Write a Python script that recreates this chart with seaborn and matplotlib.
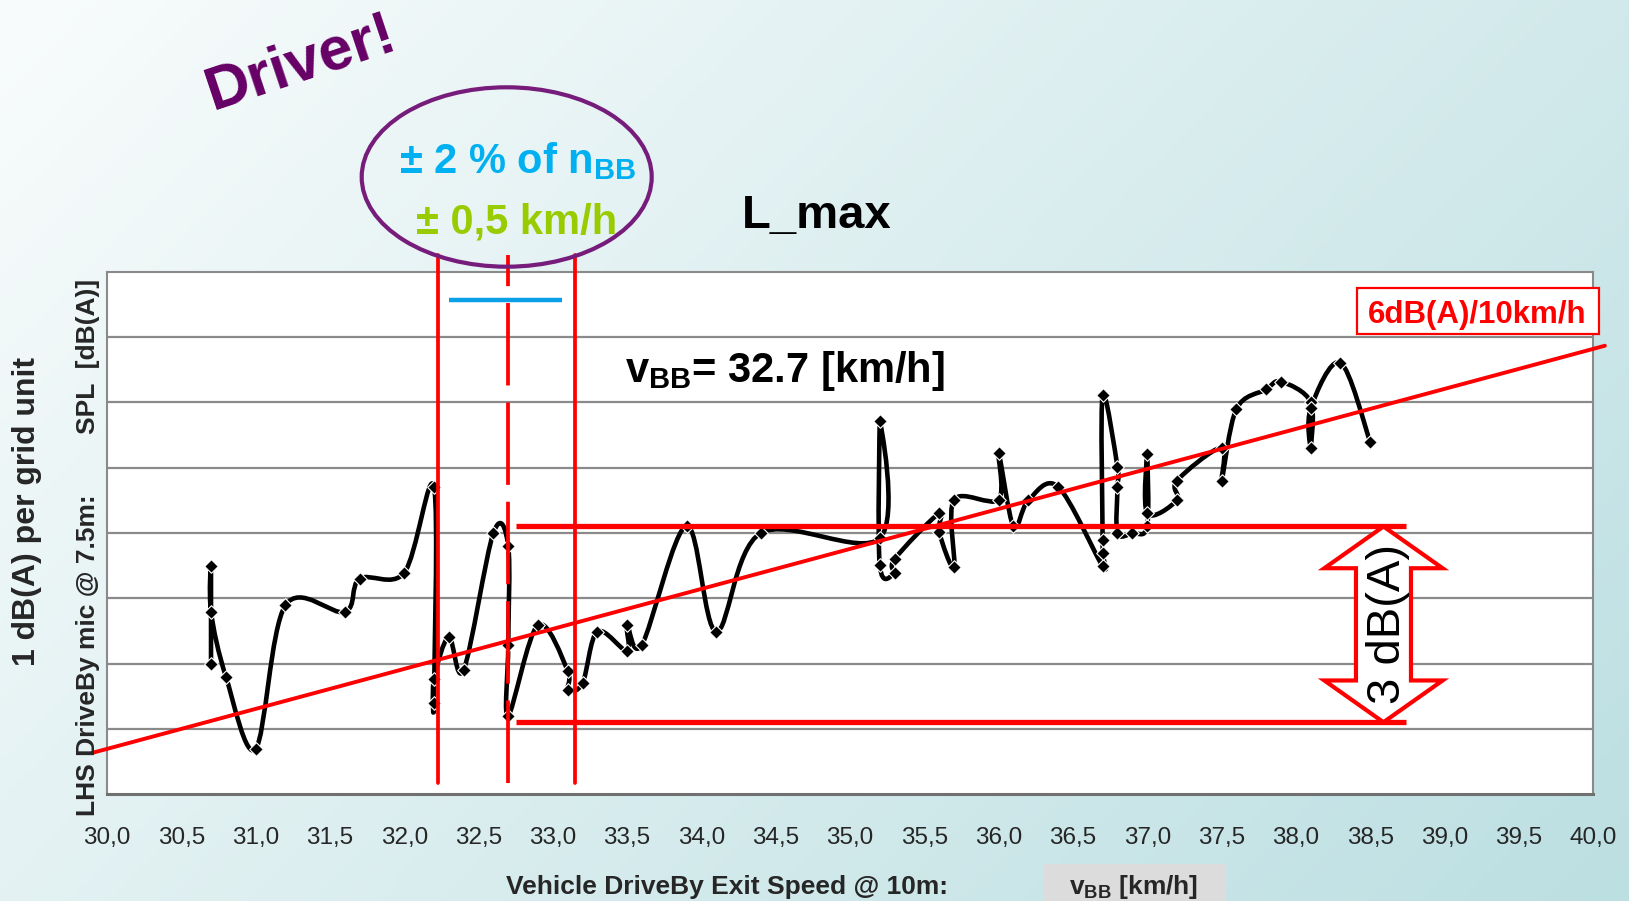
import numpy as np
import matplotlib
matplotlib.use("Agg")
import matplotlib.pyplot as plt
import seaborn as sns
from matplotlib.path import Path
from matplotlib.patches import PathPatch, Ellipse, Rectangle, Polygon

# ---------------- data ----------------
speed = [30.70, 30.70, 30.70, 30.80, 31.00, 31.20, 31.60, 31.70, 32.00, 32.20,
         32.20, 32.20, 32.30, 32.40, 32.60, 32.70, 32.70, 32.70, 32.90, 33.10,
         33.10, 33.20, 33.30, 33.50, 33.50, 33.60, 33.90, 34.10, 34.40, 35.20,
         35.20, 35.20, 35.30, 35.30, 35.60, 35.60, 35.70, 35.70, 36.00, 36.00,
         36.10, 36.20, 36.40, 36.70, 36.70, 36.70, 36.70, 36.80, 36.80, 36.80,
         36.90, 37.00, 37.00, 37.00, 37.20, 37.20, 37.50, 37.50, 37.60, 37.80,
         37.90, 38.10, 38.10, 38.10, 38.30, 38.50]
spl = [2.00, 3.49, 2.79, 1.80, 0.69, 2.89, 2.79, 3.30, 3.39, 4.71,
       1.40, 1.77, 2.41, 1.90, 4.00, 3.80, 2.28, 1.20, 2.59, 1.89,
       1.59, 1.70, 2.49, 2.19, 2.59, 2.29, 4.11, 2.49, 4.00, 3.92,
       5.71, 3.51, 3.39, 3.60, 4.30, 4.01, 3.48, 4.51, 4.51, 5.22,
       4.10, 4.50, 4.71, 3.49, 3.69, 3.90, 6.11, 5.01, 4.70, 4.00,
       4.00, 4.10, 5.21, 4.30, 4.50, 4.80, 5.31, 4.80, 5.90, 6.20,
       6.32, 6.01, 5.31, 5.91, 6.61, 5.40]

tick_values = [30.0, 30.5, 31.0, 31.5, 32.0, 32.5, 33.0, 33.5, 34.0, 34.5, 35.0,
               35.5, 36.0, 36.5, 37.0, 37.5, 38.0, 38.5, 39.0, 39.5, 40.0]
tick_labels = ["30,0", "30,5", "31,0", "31,5", "32,0", "32,5", "33,0", "33,5",
               "34,0", "34,5", "35,0", "35,5", "36,0", "36,5", "37,0", "37,5",
               "38,0", "38,5", "39,0", "39,5", "40,0"]
grid_levels = [1, 2, 3, 4, 5, 6, 7]

trend_x = [29.9, 40.08]          # 6 dB(A) / 10 km/h trend line
trend_y = [0.63, 6.87]
v_bb = 32.7                      # dashed line
tol_lo, tol_hi = 32.23, 33.15    # +-0.5 km/h window
blue_x = [32.30, 33.06]          # +-2 % of n_BB
blue_y = 7.57
band_x = [32.75, 38.74]          # 3 dB(A) band
band_top, band_bottom = 4.10, 1.10
arrow_x = 38.59

# ---------------- style ----------------
sns.set_theme(style="white")
plt.rcParams['font.family'] = ['Liberation Sans', 'DejaVu Sans']
plt.rcParams['mathtext.fontset'] = 'custom'
plt.rcParams['mathtext.rm'] = 'Liberation Sans'
plt.rcParams['mathtext.bf'] = 'Liberation Sans:bold'
plt.rcParams['mathtext.it'] = 'Liberation Sans:italic'

W, H = 1629, 901
fig = plt.figure(figsize=(W / 100, H / 100), dpi=100)


def fx(px):
    return px / W


def fy(py):
    return 1 - py / H


# background gradient
bg = fig.add_axes([0, 0, 1, 1], zorder=-10)
gx = np.linspace(0, 1, 400)
gy = np.linspace(0, 1, 220)
GX, GY = np.meshgrid(gx, gy)
tt = np.clip(0.65 * GX + 0.35 * GY, 0, 1)
c0 = np.array([249, 252, 252]) / 255
c1 = np.array([188, 223, 226]) / 255
img = c0 + (c1 - c0) * tt[..., None]
bg.imshow(img, aspect='auto', extent=[0, 1, 0, 1], origin='upper')
bg.axis('off')

ax = fig.add_axes([fx(107), fy(794), (1593 - 107) / W, (794 - 272) / H])
ax.set_facecolor('white')


# smooth (Excel-like) curve through the measured points
def smooth_path(xs, ys, t=1 / 6):
    P = np.column_stack([xs, ys]).astype(float)
    n = len(P)
    verts = [P[0]]
    codes = [Path.MOVETO]
    for i in range(n - 1):
        p0 = P[i - 1] if i > 0 else P[i]
        p1 = P[i]
        p2 = P[i + 1]
        p3 = P[i + 2] if i + 2 < n else P[i + 1]
        verts += [p1 + (p2 - p0) * t, p2 - (p3 - p1) * t, p2]
        codes += [Path.CURVE4] * 3
    return Path(verts, codes)


ax.add_patch(PathPatch(smooth_path(speed, spl), facecolor='none',
                       edgecolor='black', lw=3.3, zorder=3, capstyle='round',
                       joinstyle='round'))
sns.scatterplot(x=speed, y=spl, marker='D', s=48, color='black',
                edgecolor='white', linewidth=0.8, ax=ax, zorder=4)

ax.set_xlim(30, 40)
ax.set_ylim(0, 8)
ax.set_xticks(tick_values)
ax.set_xticklabels(tick_labels, fontsize=17.5)
ax.set_yticks(grid_levels)
ax.set_yticklabels([])
ax.tick_params(axis='x', length=0, pad=23.5)
ax.tick_params(axis='y', length=0)
ax.yaxis.grid(True, color='#8a8a8a', lw=1.6)
ax.xaxis.grid(False)
ax.set_axisbelow(True)
ax.set_xlabel('')
ax.set_ylabel('')
for s in ax.spines.values():
    s.set_color('#8a8a8a')
    s.set_linewidth(1.5)
ax.spines['bottom'].set_linewidth(2.2)
ax.spines['bottom'].set_color('#707070')

# red annotations
red = '#ff0000'
ax.plot(trend_x, trend_y, color=red, lw=2.8, clip_on=False, zorder=6)
for xv in (tol_lo, tol_hi):
    ax.plot([xv, xv], [0.17, 8.26], color=red, lw=2.7, clip_on=False, zorder=6)
ax.plot([v_bb, v_bb], [0.17, 8.26], color=red, lw=2.7, clip_on=False, zorder=6,
        dashes=(22, 4.5))
ax.plot(blue_x, [blue_y, blue_y], color='#0aa0e8', lw=3.2, zorder=7,
        solid_capstyle='butt')
ax.plot(band_x, [band_top, band_top], color=red, lw=3.8, zorder=6,
        solid_capstyle='butt')
ax.plot(band_x, [band_bottom, band_bottom], color=red, lw=3.8, zorder=6,
        solid_capstyle='butt')

hw, sw, hl = 0.398, 0.185, 0.64
arrow = Polygon([(arrow_x, band_top), (arrow_x + hw, band_top - hl),
                 (arrow_x + sw, band_top - hl), (arrow_x + sw, band_bottom + hl),
                 (arrow_x + hw, band_bottom + hl), (arrow_x, band_bottom),
                 (arrow_x - hw, band_bottom + hl), (arrow_x - sw, band_bottom + hl),
                 (arrow_x - sw, band_top - hl), (arrow_x - hw, band_top - hl)],
                closed=True, facecolor='white', edgecolor=red, lw=3.0,
                joinstyle='miter', zorder=7)
ax.add_patch(arrow)
ax.text(arrow_x + 0.03, (band_top + band_bottom) / 2, "3 dB(A)", rotation=90,
        fontsize=34, ha='center', va='center', color='black', zorder=8)

# figure-level texts / shapes
purple = '#660066'
fig.text(fx(301), fy(64), "Driver!", rotation=18.5, rotation_mode='anchor',
         color=purple, fontsize=44, fontweight='bold', ha='center', va='center')

ell = Ellipse((506.7 / 100, (H - 177) / 100), width=2.90, height=1.794,
              transform=fig.dpi_scale_trans, fill=False, edgecolor='#761d7c',
              lw=3.0, zorder=10)
fig.add_artist(ell)
fig.text(fx(518), fy(173), r"± 2 % of $\mathbf{n_{BB}}$", color='#00b0f0',
         fontsize=30, fontweight='bold', ha='center', va='baseline', zorder=11)
fig.text(fx(516.5), fy(233), "± 0,5 km/h", color='#99cc00',
         fontsize=30, fontweight='bold', ha='center', va='baseline', zorder=11)

fig.text(fx(817), fy(228), "L_max", fontsize=34, fontweight='bold',
         ha='center', va='baseline', color='black')
fig.text(fx(625), fy(382), r"$\mathbf{v_{BB}}$= 32.7 [km/h]", fontsize=30,
         fontweight='bold', ha='left', va='baseline', color='black', zorder=11)

box = Rectangle((1356.7 / 100, (H - 334) / 100), 2.423, 0.457,
                transform=fig.dpi_scale_trans, facecolor='white',
                edgecolor=red, lw=1.6, zorder=10)
fig.add_artist(box)
fig.text(fx(1477.5), fy(323), "6dB(A)/10km/h", color=red, fontsize=22.5,
         fontweight='bold', ha='center', va='baseline', zorder=11)

fig.text(fx(27), fy(511.5), "1 dB(A) per grid unit", rotation=90, fontsize=23,
         fontweight='bold', ha='center', va='center')
fig.text(fx(88), fy(655.5), "LHS DriveBy mic @ 7.5m:", rotation=90, fontsize=19,
         fontweight='bold', ha='center', va='center')
fig.text(fx(88), fy(356), "SPL  [dB(A)]", rotation=90, fontsize=19,
         fontweight='bold', ha='center', va='center')

fig.text(fx(727), fy(894), "Vehicle DriveBy Exit Speed @ 10m:", fontsize=19,
         fontweight='bold', ha='center', va='baseline')
gbox = Rectangle((1044 / 100, 0), 1.82, 0.37, transform=fig.dpi_scale_trans,
                 facecolor='#dcdcdc', edgecolor='none', zorder=5)
fig.add_artist(gbox)
fig.text(fx(1134), fy(894), r"$\mathbf{v_{BB}}$ [km/h]", fontsize=19,
         fontweight='bold', ha='center', va='baseline', zorder=6)

fig.savefig("out.png", dpi=100)
